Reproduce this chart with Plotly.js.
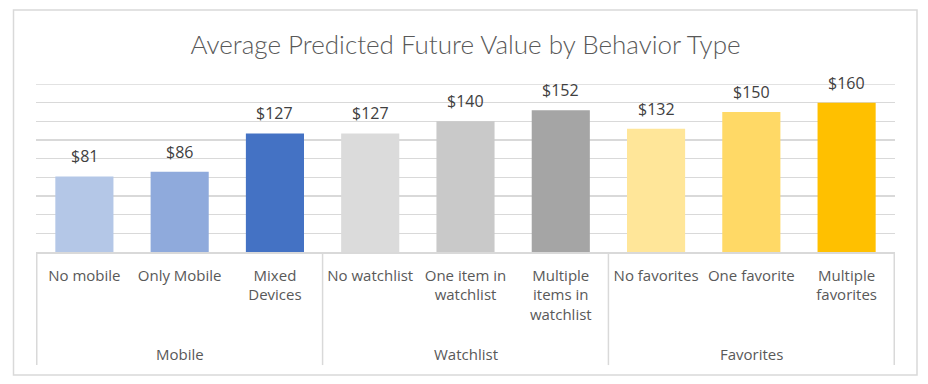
<!DOCTYPE html>
<html>
<head>
<meta charset="utf-8">
<script src="https://cdn.plot.ly/plotly-3.0.1.min.js"></script>
<style>
html,body{margin:0;padding:0;background:#fff;}
#chart{width:928px;height:384px;}
</style>
</head>
<body>
<div id="chart"></div>
<script>
const categories = ["No mobile","Only Mobile","Mixed Devices","No watchlist","One item in watchlist","Multiple items in watchlist","No favorites","One favorite","Multiple favorites"];
const tickLabels = ["No mobile","Only Mobile","Mixed<br>Devices","No watchlist","One item in<br>watchlist","Multiple<br>items in<br>watchlist","No favorites","One favorite","Multiple<br>favorites"];
const values = [81,86,127,127,140,152,132,150,160];
const barColors = ["#B4C7E7","#8FAADC","#4472C4","#DBDBDB","#C9C9C9","#A5A5A5","#FFE699","#FFD966","#FFC000"];
const groups = ["Mobile","Watchlist","Favorites"];
const groupSizes = [3,3,3];
const yMax = 180;

const FONT = "Lato, 'Open Sans', sans-serif";
const LABEL_FONT = "'Open Sans', sans-serif";

const trace = {
  type: "bar",
  x: categories,
  y: values,
  marker: {color: barColors, line: {width: 0}},
  hoverinfo: "skip"
};

const annotations = values.map((v, i) => ({
  x: categories[i], y: v, xref: "x", yref: "y",
  text: "$" + v, showarrow: false, yanchor: "bottom", yshift: 7,
  font: {family: LABEL_FONT, size: 16, color: "#404040"}
}));

const shapes = [];
let start = 0;
groups.forEach((g, gi) => {
  const n = groupSizes[gi];
  annotations.push({
    x: start + (n - 1) / 2, y: -0.607, xref: "x", yref: "paper",
    text: g, showarrow: false, yanchor: "middle",
    font: {family: LABEL_FONT, size: 15, color: "#595959"}
  });
  start += n;
});
let b = -0.5;
shapes.push({type: "line", xref: "x", yref: "paper", x0: b, x1: b, y0: 0, y1: -0.673, line: {color: "#D9D9D9", width: 1.5}});
groupSizes.forEach(n => {
  b += n;
  shapes.push({type: "line", xref: "x", yref: "paper", x0: b, x1: b, y0: 0, y1: -0.673, line: {color: "#D9D9D9", width: 1.5}});
});
// top gridline at the axis maximum
shapes.push({type: "line", xref: "paper", yref: "y", x0: 0, x1: 1, y0: yMax, y1: yMax, line: {color: "#D9D9D9", width: 1.5}, layer: "below"});
// outer chart border
shapes.push({type: "rect", xref: "paper", yref: "paper",
  x0: (13.5 - 36) / 859, x1: (917 - 36) / 859,
  y0: (252 - 375) / 168, y1: (252 - 10) / 168,
  line: {color: "#D9D9D9", width: 1.5}, fillcolor: "rgba(0,0,0,0)"});

const layout = {
  width: 928, height: 384,
  margin: {l: 36, r: 33, t: 84, b: 132},
  paper_bgcolor: "#FFFFFF", plot_bgcolor: "#FFFFFF",
  showlegend: false,
  bargap: 0.39,
  title: {text: "Average Predicted Future Value by Behavior Type",
    font: {family: FONT, size: 26, color: "#595959", weight: 300},
    x: 0.5, xanchor: "center", y: 0.883, yanchor: "middle", xref: "paper"},
  xaxis: {
    type: "category",
    tickvals: categories, ticktext: tickLabels,
    showline: true, linecolor: "#D9D9D9", linewidth: 1.5,
    ticks: "", ticklabelstandoff: 9,
    showgrid: false, zeroline: false,
    tickfont: {family: LABEL_FONT, size: 15, color: "#595959"},
    fixedrange: true
  },
  yaxis: {
    range: [0, yMax], dtick: 20, tick0: 0,
    showticklabels: false, ticks: "",
    showgrid: true, gridcolor: "#D9D9D9", gridwidth: 1.5,
    zeroline: false, showline: false, fixedrange: true
  },
  annotations: annotations,
  shapes: shapes
};

Plotly.newPlot("chart", [trace], layout, {displayModeBar: false, staticPlot: true});
</script>
</body>
</html>
